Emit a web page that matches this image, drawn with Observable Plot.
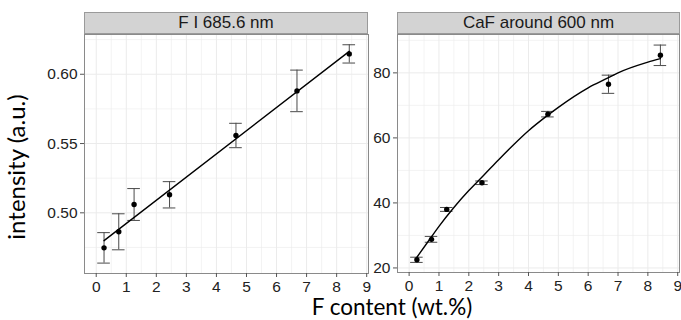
<!DOCTYPE html>
<html>
<head>
<meta charset="utf-8">
<script src="https://cdn.jsdelivr.net/npm/d3@7"></script>
<script src="https://cdn.jsdelivr.net/npm/@observablehq/plot@0.6"></script>
<style>
  html, body { margin: 0; padding: 0; background: #fff; }
  #root { position: relative; width: 681px; height: 320px; overflow: hidden; background: #fff; }
  .strip { position: absolute; box-sizing: border-box; height: 22px; background: #d3d3d3; border: 1px solid #9a9a9a;
           font-family: "Liberation Sans", Arial, sans-serif; font-size: 17px; color: #1a1a1a; text-align: center; line-height: 20px; }
  .panel { position: absolute; }
  .ytitle { position: absolute; font-family: Lato, sans-serif; font-size: 24px; color: #000; white-space: nowrap;
            transform: translate(-50%, -50%) rotate(-90deg); line-height: 24px; }
  .xtitle { position: absolute; font-family: Lato, sans-serif; font-size: 22.5px; color: #000; white-space: nowrap;
            transform: translateX(-50%); line-height: 20px; }
</style>
</head>
<body>
<div id="root"></div>
<script>
// ---- data ----
const panelTitles = ["F I 685.6 nm", "CaF around 600 nm"];
const xTitle = "F content (wt.%)";
const yTitle = "intensity (a.u.)";

const fContent = [0.26, 0.75, 1.26, 2.44, 4.65, 6.68, 8.42];
const fiIntensity = [0.4747, 0.4863, 0.506, 0.513, 0.5558, 0.588, 0.6147];
const fiError = [0.011, 0.013, 0.0115, 0.0095, 0.0088, 0.015, 0.0066];
const cafIntensity = [22.5, 28.8, 38.0, 46.2, 67.3, 76.5, 85.4];
const cafError = [0.8, 0.9, 0.6, 0.55, 0.85, 2.8, 3.15];

// fitted curve of the CaF panel
const cafFitX = [0.26, 0.75, 1, 1.5, 2, 2.5, 3, 3.5, 4, 4.65, 5, 6, 6.68, 7, 8, 8.42];
const cafFitY = [23.3, 29.6, 32.8, 38.6, 43.8, 48.5, 53.3, 57.9, 62.2, 67.0, 69.4, 75.4, 78.5, 80.0, 83.3, 84.4];

const xTicks = [0, 1, 2, 3, 4, 5, 6, 7, 8, 9];
const xMinor = [0.5, 1.5, 2.5, 3.5, 4.5, 5.5, 6.5, 7.5, 8.5];
const fiTicks = [0.50, 0.55, 0.60];
const fiMinor = [0.475, 0.525, 0.575, 0.625];
const cafTicks = [20, 40, 60, 80];
const cafMinor = [30, 50, 70, 90];

// ---- build ----
const root = document.getElementById("root");
const capHalf = 0.21;
const gridCol = "#ebebeb";
const tickCol = "#555";

function panel({values, errors, yDomain, yTicks, yMinor, yFormat, fit, left, width, marginLeft, marginRight, marginBottom, stripLeft, stripWidth, title}) {
  const data = fContent.map((x, i) => ({x, y: values[i], e: errors[i]}));
  const marks = [
    Plot.gridX(xMinor, {stroke: gridCol, strokeOpacity: 1, strokeWidth: 0.6}),
    Plot.gridY(yMinor, {stroke: gridCol, strokeOpacity: 1, strokeWidth: 0.6}),
    Plot.gridX(xTicks, {stroke: gridCol, strokeOpacity: 1, strokeWidth: 1}),
    Plot.gridY(yTicks, {stroke: gridCol, strokeOpacity: 1, strokeWidth: 1}),
    Plot.frame({stroke: "#8a8a8a", strokeWidth: 1}),
    Plot.axisX(xTicks, {tickSize: 4, tickPadding: 3, stroke: tickCol, fill: "#222", label: null}),
    Plot.axisY(yTicks, {tickSize: 4, tickPadding: 3, stroke: tickCol, fill: "#222", label: null, tickFormat: yFormat}),
    Plot.ruleX(data, {x: "x", y1: d => d.y - d.e, y2: d => d.y + d.e, stroke: "#4a4a4a", strokeWidth: 1}),
    Plot.ruleY(data, {y: d => d.y + d.e, x1: d => d.x - capHalf, x2: d => d.x + capHalf, stroke: "#4a4a4a", strokeWidth: 1}),
    Plot.ruleY(data, {y: d => d.y - d.e, x1: d => d.x - capHalf, x2: d => d.x + capHalf, stroke: "#4a4a4a", strokeWidth: 1}),
    fit(data),
    Plot.dot(data, {x: "x", y: "y", r: 2.7, fill: "#000", stroke: "none"})
  ];
  const svg = Plot.plot({
    width, height: 287,
    marginLeft, marginRight, marginTop: 1, marginBottom,
    x: {domain: [-0.39, 9.06], axis: null},
    y: {domain: yDomain, axis: null},
    style: {fontFamily: "'Liberation Sans', Arial, sans-serif", fontSize: "15.5px", background: "transparent", overflow: "visible"},
    marks
  });
  const wrap = document.createElement("div");
  wrap.className = "panel";
  wrap.style.left = left + "px";
  wrap.style.top = "33px";
  wrap.appendChild(svg);
  root.appendChild(wrap);
  const strip = document.createElement("div");
  strip.className = "strip";
  strip.style.left = stripLeft + "px";
  strip.style.top = "12px";
  strip.style.width = stripWidth + "px";
  strip.textContent = title;
  root.appendChild(strip);
}

panel({
  values: fiIntensity, errors: fiError,
  yDomain: [0.4562, 0.6287], yTicks: fiTicks, yMinor: fiMinor, yFormat: d3.format(".2f"),
  fit: data => Plot.linearRegressionY(data, {x: "x", y: "y", ci: 0, stroke: "#000", strokeWidth: 1.4}),
  left: 44, width: 325, marginLeft: 40, marginRight: 1, marginBottom: 47,
  stripLeft: 84, stripWidth: 284, title: panelTitles[0]
});

panel({
  values: cafIntensity, errors: cafError,
  yDomain: [18.6, 91.8], yTicks: cafTicks, yMinor: cafMinor, yFormat: d3.format("d"),
  fit: () => Plot.line(cafFitX.map((x, i) => ({x, y: cafFitY[i]})), {x: "x", y: "y", curve: "monotone-x", stroke: "#000", strokeWidth: 1.4}),
  left: 367, width: 314, marginLeft: 30, marginRight: 2, marginBottom: 48,
  stripLeft: 397, stripWidth: 283, title: panelTitles[1]
});

const yt = document.createElement("div");
yt.className = "ytitle";
yt.style.left = "16px";
yt.style.top = "167px";
yt.textContent = yTitle;
root.appendChild(yt);

const xt = document.createElement("div");
xt.className = "xtitle";
xt.style.left = "392px";
xt.style.top = "297px";
xt.textContent = xTitle;
root.appendChild(xt);
</script>
</body>
</html>
